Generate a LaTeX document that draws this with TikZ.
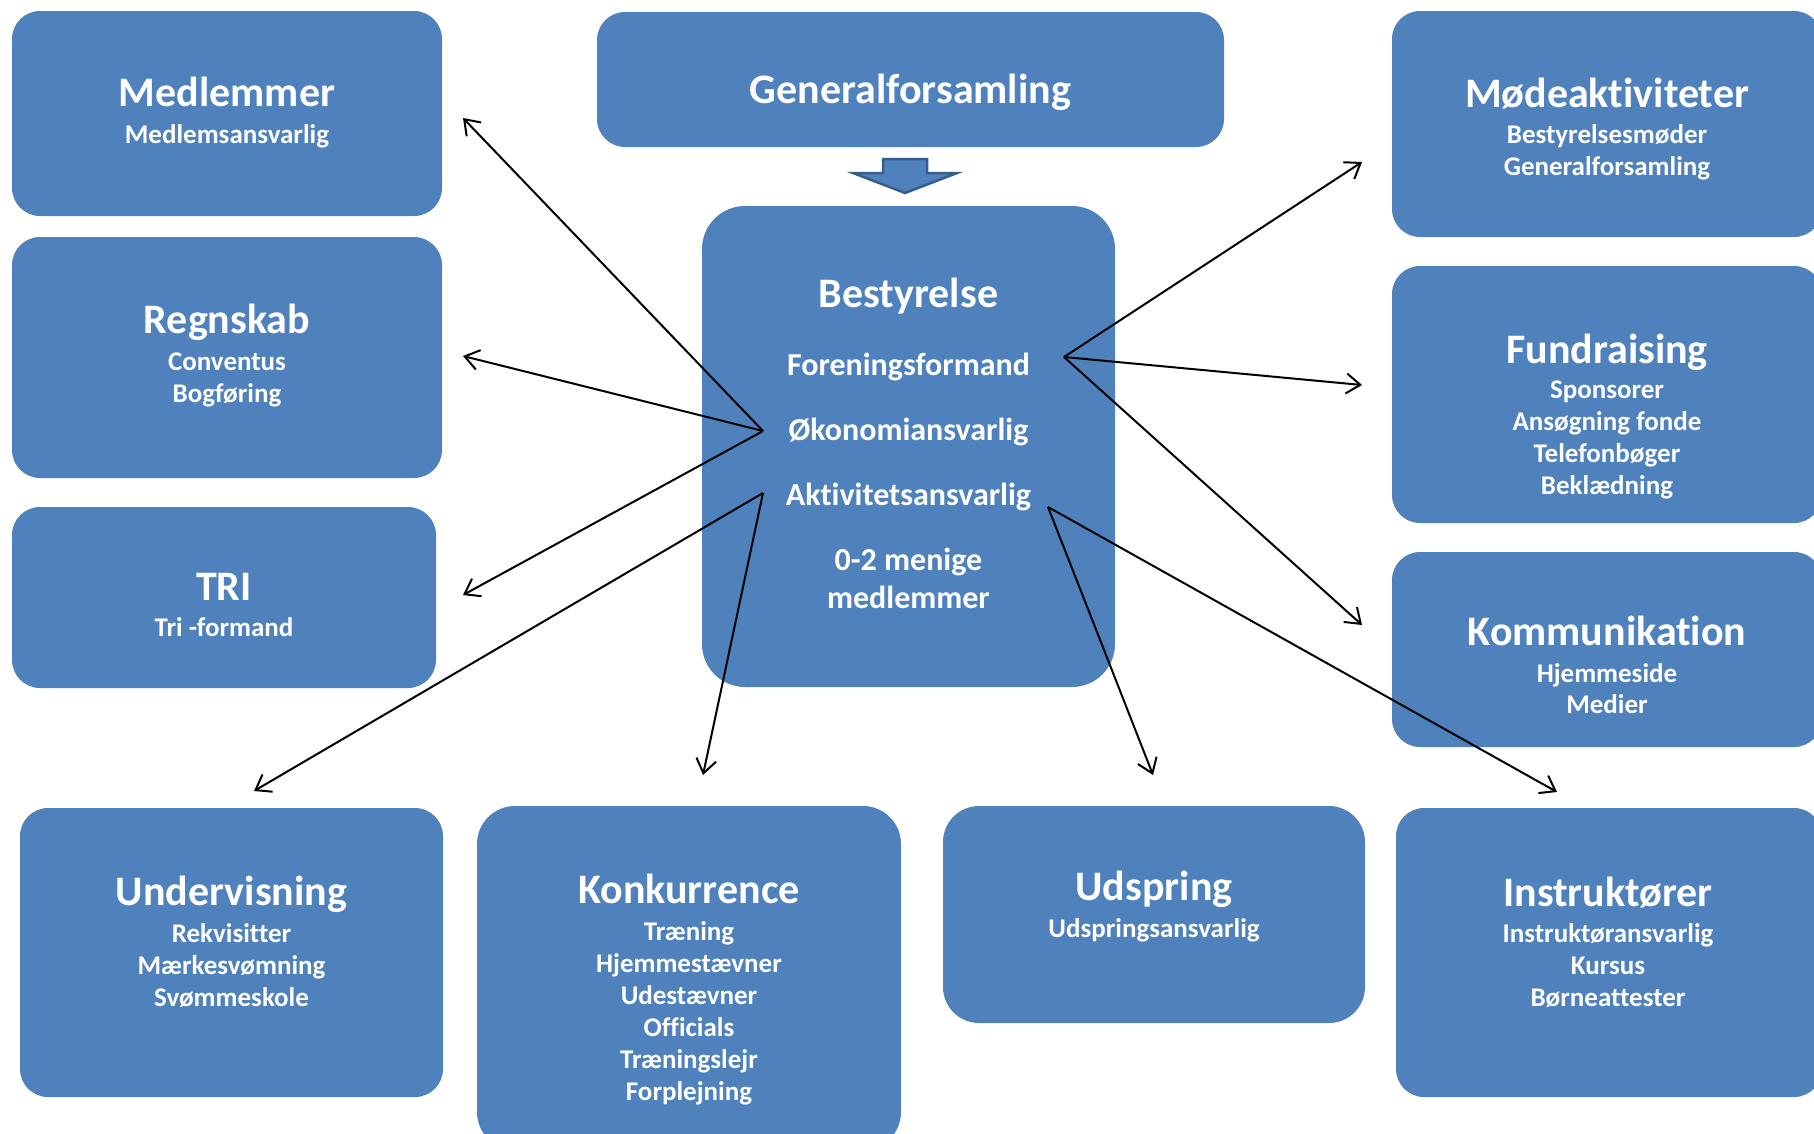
\documentclass[tikz,border=0pt]{standalone}
\usepackage{fontspec}
\setmainfont{Carlito}[Ligatures = {NoCommon, NoRequired, NoContextual}, Contextuals = NoAlternate]
\usetikzlibrary{arrows.meta}
\definecolor{boxblue}{HTML}{4F81BD}
\definecolor{boxedge}{HTML}{385D8A}
\tikzset{
	box/.style = {rectangle, fill = boxblue, rounded corners = 28pt, inner sep = 0pt},
	title/.style = {anchor = base, text = white, inner sep = 0pt, font = \bfseries\fontsize{42}{50}\selectfont},
	sub/.style = {anchor = base, text = white, inner sep = 0pt, font = \bfseries\fontsize{27}{32}\selectfont},
	item/.style = {anchor = base, text = white, inner sep = 0pt, font = \bfseries\fontsize{32}{38}\selectfont},
	link/.style = {-{Straight Barb[length = 14pt, width = 20pt]}, line width = 2pt}
}
\begin{document}
\begin{tikzpicture}[x = 1pt, y = -1pt]
	\useasboundingbox (0, 0) rectangle (1814, 1133);
	% boxes
	\node[box, minimum width = 430, minimum height = 205] (medl) at (227, 113.5) {};
	\node[box, minimum width = 430, minimum height = 241] (regn) at (227, 357.5) {};
	\node[box, minimum width = 424, minimum height = 181] (tri) at (224, 597.5) {};
	\node[box, minimum width = 627, minimum height = 135] (gen) at (910.5, 79.5) {};
	\node[box, rounded corners = 43pt, minimum width = 413, minimum height = 481] (best) at (908.5, 446.5) {};
	\node[box, minimum width = 430, minimum height = 226] (mode) at (1607, 124) {};
	\node[box, minimum width = 430, minimum height = 257] (fund) at (1607, 394.5) {};
	\node[box, minimum width = 430, minimum height = 195] (komm) at (1607, 649.5) {};
	\node[box, minimum width = 423, minimum height = 289] (underv) at (231.5, 952.5) {};
	\node[box, rounded corners = 38pt, minimum width = 424, minimum height = 344] (konk) at (689, 978) {};
	\node[box, rounded corners = 36pt, minimum width = 422, minimum height = 217] (udsp) at (1154, 914.5) {};
	\node[box, minimum width = 426, minimum height = 289] (instr) at (1609, 952.5) {};
	% arrow from Generalforsamling down to Bestyrelse
	\draw[boxedge, fill = boxblue, line width = 2.5pt] (883, 159) -- (927, 159) -- (927, 173) -- (957, 173) -- (905, 193) -- (853, 173) -- (883, 173) -- cycle;
	% texts
	\node[title] (medl-t) at (227, 106) {Medlemmer};
	\node[sub] (medl-s) at (227, 143) {Medlemsansvarlig};
	\node[title] (regn-t) at (227, 333) {Regnskab};
	\foreach \s [count = \i from 0] in {Conventus, Bogføring} \node[sub] (regn-s\i) at (227, 370 + 32*\i) {\s};
	\node[title] (tri-t) at (224, 600) {TRI};
	\node[sub] (tri-s) at (224, 636) {Tri -formand};
	\node[title] (gen-t) at (910.5, 103) {Generalforsamling};
	\node[title] (best-t) at (908.5, 307) {Bestyrelse};
	\foreach \s [count = \i from 0] in {Foreningsformand, Økonomiansvarlig, Aktivitetsansvarlig, 0-2 menige} \node[item] (best-s\i) at (908.5, 375 + 65*\i) {\s};
	\node[item] (best-s4) at (908.5, 608) {medlemmer};
	\node[title] (mode-t) at (1607, 107) {Mødeaktiviteter};
	\foreach \s [count = \i from 0] in {Bestyrelsesmøder, Generalforsamling} \node[sub] (mode-s\i) at (1607, 143 + 32*\i) {\s};
	\node[title] (fund-t) at (1607, 363) {Fundraising};
	\foreach \s [count = \i from 0] in {Sponsorer, Ansøgning fonde, Telefonbøger, Beklædning} \node[sub] (fund-s\i) at (1607, 398 + 32*\i) {\s};
	\node[title] (komm-t) at (1607, 645) {Kommunikation};
	\foreach \s [count = \i from 0] in {Hjemmeside, Medier} \node[sub] (komm-s\i) at (1607, 682 + 31*\i) {\s};
	\node[title] (underv-t) at (231.5, 905) {Undervisning};
	\foreach \s [count = \i from 0] in {Rekvisitter, Mærkesvømning, Svømmeskole} \node[sub] (underv-s\i) at (231.5, 942 + 32*\i) {\s};
	\node[title] (konk-t) at (689, 903) {Konkurrence};
	\foreach \s [count = \i from 0] in {Træning, Hjemmestævner, Udestævner, Officials, Træningslejr, Forplejning} \node[sub] (konk-s\i) at (689, 940 + 32*\i) {\s};
	\node[title] (udsp-t) at (1154, 900) {Udspring};
	\node[sub] (udsp-s) at (1154, 937) {Udspringsansvarlig};
	\node[title] (instr-t) at (1608, 906) {Instruktører};
	\foreach \s [count = \i from 0] in {Instruktøransvarlig, Kursus, Børneattester} \node[sub] (instr-s\i) at (1608, 942 + 32*\i) {\s};
	% arrow ends
	\coordinate (hubL) at (763, 431);
	\coordinate (hubLL) at (763, 493);
	\coordinate (hubR) at (1064, 357);
	\coordinate (hubRR) at (1048, 507);
	\coordinate (to-medl) at (463, 118);
	\coordinate (to-regn) at (463, 356);
	\coordinate (to-tri) at (463, 595);
	\coordinate (to-underv) at (254, 791);
	\coordinate (to-konk) at (703, 775);
	\coordinate (to-mode) at (1362, 162);
	\coordinate (to-fund) at (1362, 385);
	\coordinate (to-komm) at (1362, 625);
	\coordinate (to-udsp) at (1153, 775);
	\coordinate (to-instr) at (1557, 792);
	\foreach \t in {medl, regn, tri} \draw[link] (hubL) -- (to-\t);
	\foreach \t in {underv, konk} \draw[link] (hubLL) -- (to-\t);
	\foreach \t in {mode, fund, komm} \draw[link] (hubR) -- (to-\t);
	\foreach \t in {udsp, instr} \draw[link] (hubRR) -- (to-\t);
\end{tikzpicture}
\end{document}
